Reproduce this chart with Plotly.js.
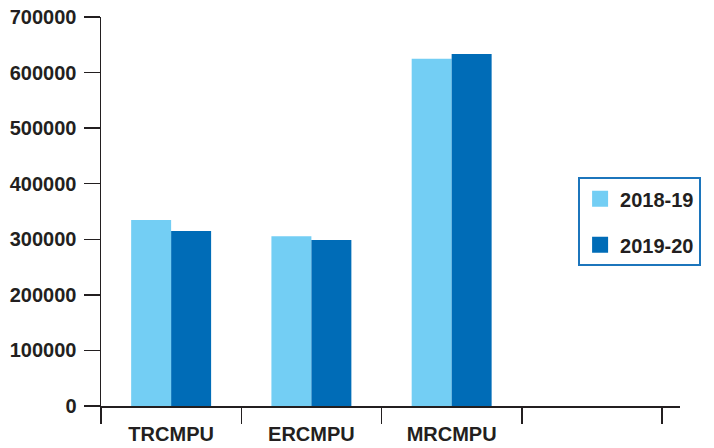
<!DOCTYPE html>
<html>
<head>
<meta charset="utf-8">
<script src="https://cdn.plot.ly/plotly-3.0.1.min.js"></script>
<style>html,body{margin:0;padding:0;background:#fff;}#chart{width:714px;height:448px;}</style>
</head>
<body>
<div id="chart"></div>
<script>
const categories = ['TRCMPU', 'ERCMPU', 'MRCMPU', ' '];
const series2018 = [334500, 305500, 625000, null];
const series2019 = [314800, 298500, 633500, null];
const seriesNames = ['2018-19', '2019-20'];
const yTicks = [0, 100000, 200000, 300000, 400000, 500000, 600000, 700000];

const lightBlue = '#73cef4';
const darkBlue = '#006cb7';
const ink = '#231f20';
const font = {family: 'Liberation Sans, Arial, sans-serif', size: 20, color: ink, weight: 'bold'};

const traces = [
  {type: 'bar', x: categories, y: series2018, name: seriesNames[0], marker: {color: lightBlue}, showlegend: false, hoverinfo: 'none'},
  {type: 'bar', x: categories, y: series2019, name: seriesNames[1], marker: {color: darkBlue}, showlegend: false, hoverinfo: 'none'},
  {type: 'scatter', mode: 'markers', x: [categories[0]], y: [null], name: seriesNames[0], legendgroup: 'a',
   marker: {symbol: 'square', size: 20, color: lightBlue}, hoverinfo: 'none'},
  {type: 'scatter', mode: 'markers', x: [categories[0]], y: [null], name: seriesNames[1], legendgroup: 'b',
   marker: {symbol: 'square', size: 20, color: darkBlue}, hoverinfo: 'none'}
];

const layout = {
  width: 714, height: 448,
  margin: {l: 101, r: 34, t: 17, b: 42},
  paper_bgcolor: '#fff', plot_bgcolor: '#fff',
  font: font,
  barmode: 'group',
  bargap: 0.43, bargroupgap: 0,
  showlegend: true,
  legend: {
    x: 0.824, xanchor: 'left', y: 0.588, yanchor: 'top',
    bordercolor: '#1c75bc', borderwidth: 2, bgcolor: '#fff',
    font: {family: 'Liberation Sans, Arial, sans-serif', size: 20, color: ink, weight: 'bold'},
    tracegroupgap: 17, itemsizing: 'trace'
  },
  xaxis: {
    type: 'category', categoryorder: 'array', categoryarray: categories,
    range: [-0.5, 3.628], fixedrange: true,
    showline: true, linecolor: ink, linewidth: 1.5,
    ticks: 'outside', tickson: 'boundaries', ticklen: 16, tickwidth: 1.5, tickcolor: ink,
    ticklabelstandoff: 9,
    showgrid: false, zeroline: false,
    tickfont: font
  },
  yaxis: {
    range: [0, 700000], fixedrange: true,
    tickmode: 'array', tickvals: yTicks, ticktext: yTicks.map(String),
    showline: true, linecolor: ink, linewidth: 1.5,
    ticks: 'outside', ticklen: 16, tickwidth: 1.5, tickcolor: ink,
    ticklabelstandoff: 3,
    showgrid: false, zeroline: false,
    tickfont: font
  }
};

Plotly.newPlot('chart', traces, layout, {displayModeBar: false, staticPlot: true});
</script>
</body>
</html>
